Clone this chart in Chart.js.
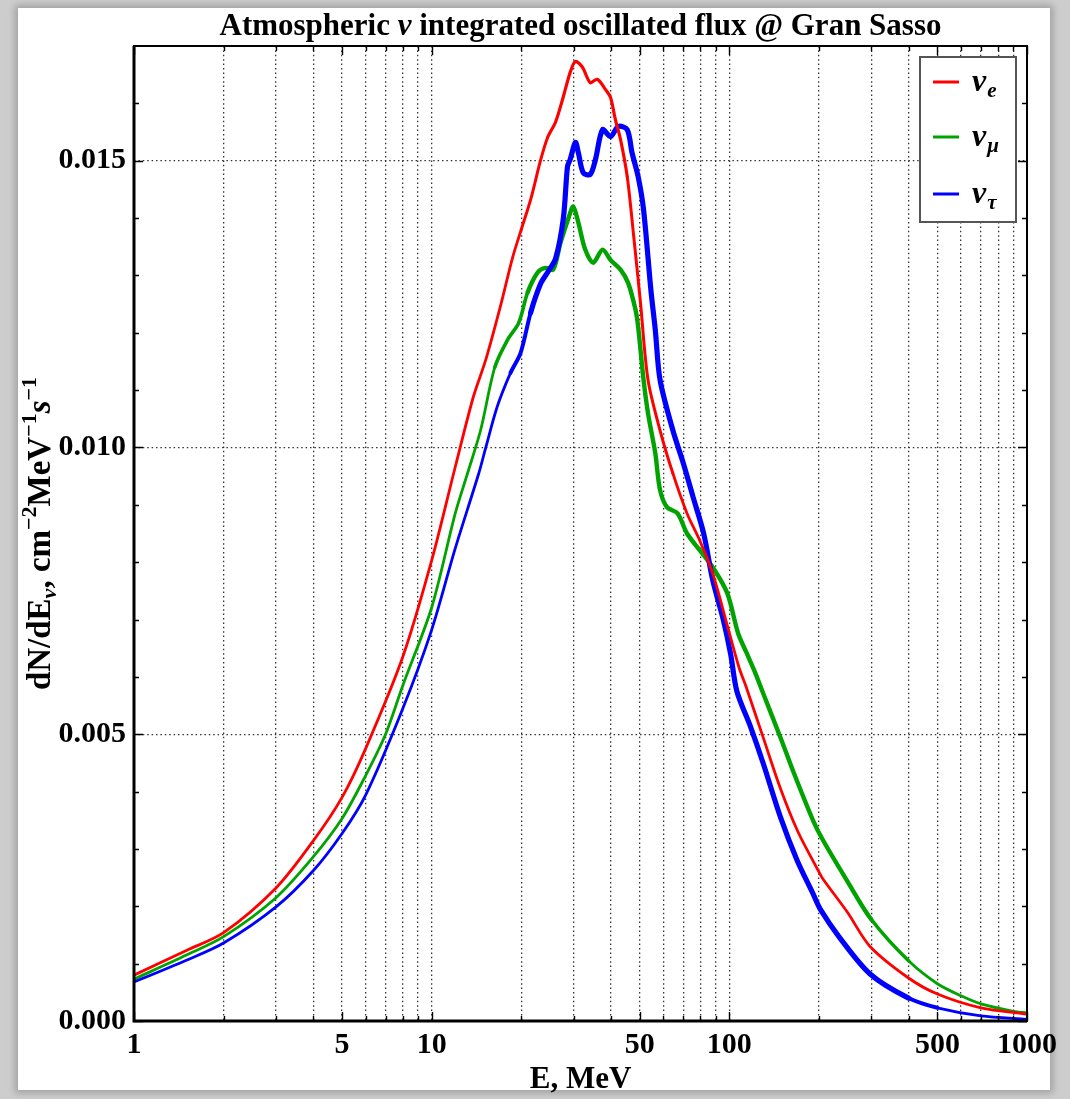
<!DOCTYPE html>
<html>
<head>
<meta charset="utf-8">
<script src="https://cdn.jsdelivr.net/npm/chart.js@4.4.0/dist/chart.umd.min.js"></script>
<style>
  html, body { margin: 0; padding: 0; }
  body { width: 1070px; height: 1099px; background: #cdcdcd; position: relative; overflow: hidden; }
  .sheet { position: absolute; left: 18px; top: 8px; width: 1032px; height: 1082px; background: #fff; box-shadow: 0 0 7px 3px rgba(0,0,0,0.22); }
  canvas { position: absolute; left: 0; top: 0; }
</style>
</head>
<body>
<div class="sheet"></div>
<canvas id="flux" width="1070" height="1099"></canvas>
<script>
// energies in MeV, fluxes in cm^-2 MeV^-1 s^-1
const energyE = [1, 1.5, 2, 3, 4, 5, 6, 8, 10, 12, 13.8, 15.2, 17, 18.7, 20, 21.5, 23.2, 24.5, 26.1, 27.7, 29.2, 30.4, 32.1, 34.1, 36, 38.4, 39.9, 41.4, 43.1, 45.4, 47.6, 50.3, 53.3, 58.5, 64.6, 72.1, 79.5, 88, 98.4, 108, 114, 130, 148.6, 170, 200, 206, 249, 297, 400, 500, 700, 1000];
const fluxE = [0.00080, 0.00123, 0.00154, 0.00232, 0.00314, 0.00390, 0.00475, 0.00635, 0.00803, 0.00966, 0.01088, 0.01153, 0.01245, 0.01331, 0.01380, 0.01432, 0.01500, 0.01540, 0.01568, 0.01612, 0.01654, 0.01673, 0.01663, 0.01636, 0.01642, 0.01624, 0.01610, 0.01572, 0.01537, 0.01472, 0.01374, 0.01252, 0.01118, 0.01030, 0.00955, 0.00885, 0.00838, 0.00780, 0.00690, 0.00615, 0.00582, 0.00494, 0.00405, 0.00330, 0.00260, 0.00248, 0.00190, 0.00130, 0.00075, 0.00047, 0.00023, 0.00012];

const energyMu = [1, 1.5, 2, 3, 4, 5, 6, 7, 8, 10, 12, 13.2, 14.6, 16.3, 18, 19.6, 21, 22.7, 24.1, 25.6, 27.1, 28.9, 29.9, 31.1, 32.8, 34.9, 37.5, 39.9, 43.1, 45.7, 48.4, 49.4, 51.5, 53.3, 56.4, 58.5, 61.7, 67, 72.1, 79.5, 88, 98.4, 107, 114, 122, 130, 148.6, 166, 191, 206, 249, 300, 400, 500, 600, 700, 900, 1000];
const fluxMu = [0.00073, 0.00115, 0.00147, 0.00215, 0.00286, 0.00353, 0.00428, 0.00500, 0.00585, 0.00721, 0.00885, 0.00955, 0.01030, 0.01140, 0.01188, 0.01217, 0.01270, 0.01305, 0.01313, 0.01310, 0.01357, 0.01402, 0.01420, 0.01392, 0.01345, 0.01322, 0.01345, 0.01327, 0.01310, 0.01287, 0.01240, 0.01210, 0.01118, 0.01060, 0.00990, 0.00926, 0.00896, 0.00885, 0.00850, 0.00821, 0.00791, 0.00746, 0.00676, 0.00643, 0.00608, 0.00571, 0.00494, 0.00428, 0.00350, 0.00316, 0.00244, 0.00177, 0.00105, 0.00065, 0.00044, 0.00030, 0.00017, 0.00014];

const energyTau = [1, 1.5, 2, 3, 4, 5, 6, 8, 10, 12, 14.4, 15.2, 16.6, 18.4, 19.9, 21.5, 23.2, 24.5, 26.1, 27.7, 28.6, 29.2, 30.4, 31.1, 32.3, 34.1, 35.5, 37.5, 39.9, 42.4, 45.4, 47.1, 49.4, 51.5, 54.5, 56.4, 58.5, 64.6, 70, 75.6, 82, 88, 95.5, 101, 106, 118, 130, 148.6, 169, 191, 202, 235, 297, 400, 500, 700, 1000];
const fluxTau = [0.00068, 0.00106, 0.00136, 0.00199, 0.00262, 0.00327, 0.00394, 0.00545, 0.00682, 0.00824, 0.00955, 0.01000, 0.01071, 0.01130, 0.01165, 0.01235, 0.01285, 0.01305, 0.01330, 0.01400, 0.01490, 0.01502, 0.01532, 0.01514, 0.01479, 0.01476, 0.01502, 0.01554, 0.01542, 0.01560, 0.01554, 0.01514, 0.01472, 0.01415, 0.01275, 0.01205, 0.01118, 0.01030, 0.00973, 0.00913, 0.00850, 0.00768, 0.00699, 0.00640, 0.00575, 0.00512, 0.00449, 0.00355, 0.00280, 0.00222, 0.00195, 0.00145, 0.00082, 0.00040, 0.00023, 0.00009, 0.00003];

const seriesNames = ['e', 'μ', 'τ'];
const seriesColors = ['#ff0000', '#00a300', '#0000ff'];

const xTickValues = [1, 2, 3, 4, 5, 6, 7, 8, 9, 10, 20, 30, 40, 50, 60, 70, 80, 90, 100, 200, 300, 400, 500, 600, 700, 800, 900, 1000];
const xLabeled = [1, 5, 10, 50, 100, 500, 1000];
const yTickValues = [0, 0.005, 0.010, 0.015];
const yMinorTicks = [0.001, 0.002, 0.003, 0.004, 0.006, 0.007, 0.008, 0.009, 0.011, 0.012, 0.013, 0.014, 0.016];

const SERIF = '"Liberation Serif", "DejaVu Serif", "Times New Roman", serif';

function toPoints(xs, ys) {
  return xs.map((x, i) => ({ x: x, y: ys[i] }));
}

// the noisy Monte Carlo part is drawn thicker, ramping in and out
function noisyWidth(lo, hi, thick) {
  return ctx => {
    const e = ctx.p0.parsed.x;
    if (e >= lo && e <= hi) return thick;
    if (e >= lo * 0.8 && e < lo) return (thick + 2.8) / 2;
    if (e > hi && e <= hi * 1.4) return (thick + 2.8) / 2;
    return 2.8;
  };
}

function drawRich(ctx, parts, x, y) {
  let w = 0;
  parts.forEach(p => { ctx.font = p[1]; w += ctx.measureText(p[0]).width; });
  let cx = x - w / 2;
  parts.forEach(p => {
    ctx.font = p[1];
    ctx.fillText(p[0], cx, y + (p[2] || 0));
    cx += ctx.measureText(p[0]).width;
  });
}

const decorations = {
  id: 'decorations',
  afterDraw(chart) {
    const { ctx, chartArea: a, scales: { x, y } } = chart;
    ctx.save();
    ctx.strokeStyle = '#000';
    ctx.fillStyle = '#000';

    // inward ticks, Mathematica style
    ctx.lineWidth = 1.4;
    ctx.beginPath();
    xTickValues.forEach(v => {
      const px = Math.round(x.getPixelForValue(v)) + 0.5;
      const len = xLabeled.includes(v) ? 9 : 5;
      ctx.moveTo(px, a.bottom); ctx.lineTo(px, a.bottom - len);
      ctx.moveTo(px, a.top); ctx.lineTo(px, a.top + len);
    });
    yTickValues.concat(yMinorTicks).forEach(v => {
      const py = Math.round(y.getPixelForValue(v)) + 0.5;
      const len = yTickValues.includes(v) ? 9 : 5;
      ctx.moveTo(a.left, py); ctx.lineTo(a.left + len, py);
      ctx.moveTo(a.right, py); ctx.lineTo(a.right - len, py);
    });
    ctx.stroke();

    // frame
    ctx.lineWidth = 2;
    ctx.strokeRect(a.left, a.top, a.right - a.left, a.bottom - a.top);
    ctx.lineWidth = 3;
    ctx.beginPath();
    ctx.moveTo(a.left, a.top); ctx.lineTo(a.left, a.bottom); ctx.lineTo(a.right, a.bottom);
    ctx.stroke();

    // title
    ctx.textAlign = 'left';
    ctx.textBaseline = 'alphabetic';
    const cx = (a.left + a.right) / 2;
    drawRich(ctx, [
      ['Atmospheric ', 'bold 31px ' + SERIF],
      ['ν', 'italic bold 31px ' + SERIF],
      [' integrated oscillated flux @ Gran Sasso', 'bold 31px ' + SERIF]
    ], cx, 35);

    // y axis title, rotated
    ctx.save();
    ctx.translate(50, (a.top + a.bottom) / 2);
    ctx.rotate(-Math.PI / 2);
    const big = 'bold 33px ' + SERIF;
    const small = 'bold 22px ' + SERIF;
    drawRich(ctx, [
      ['dN/dE', big],
      ['ν', 'italic bold 22px ' + SERIF, 6],
      [', cm', big],
      ['−2', small, -14],
      ['MeV', big],
      ['−1', small, -14],
      ['s', 'italic bold 33px ' + SERIF],
      ['−1', small, -14]
    ], 0, 0);
    ctx.restore();

    // legend
    const lx = 920, ly = 57, lw = 96, lh = 165;
    ctx.fillStyle = '#fff';
    ctx.fillRect(lx, ly, lw, lh);
    ctx.strokeStyle = '#555';
    ctx.lineWidth = 2;
    ctx.strokeRect(lx, ly, lw, lh);
    const rows = [82, 137, 194];
    rows.forEach((ry, i) => {
      ctx.strokeStyle = seriesColors[i];
      ctx.lineWidth = 3;
      ctx.beginPath();
      ctx.moveTo(933, ry); ctx.lineTo(959, ry);
      ctx.stroke();
      ctx.fillStyle = '#000';
      ctx.textAlign = 'left';
      ctx.font = 'italic bold 32px ' + SERIF;
      ctx.fillText('ν', 972, ry + 9);
      const w = ctx.measureText('ν').width;
      ctx.font = 'italic bold 21px ' + SERIF;
      ctx.fillText(seriesNames[i], 973 + w, ry + 15);
    });
    ctx.restore();
  }
};

const tickFont = { family: SERIF, size: 30, weight: 'bold' };

new Chart(document.getElementById('flux'), {
  type: 'line',
  data: {
    datasets: [
      {
        label: 'νe',
        data: toPoints(energyE, fluxE),
        borderColor: seriesColors[0],
        borderWidth: 2.8,
        order: 0,
        segment: { borderWidth: noisyWidth(24, 45, 3.2) }
      },
      {
        label: 'νμ',
        data: toPoints(energyMu, fluxMu),
        borderColor: seriesColors[1],
        borderWidth: 2.8,
        order: 2,
        segment: { borderWidth: noisyWidth(20, 260, 4.4) }
      },
      {
        label: 'ντ',
        data: toPoints(energyTau, fluxTau),
        borderColor: seriesColors[2],
        borderWidth: 2.8,
        order: 1,
        segment: { borderWidth: noisyWidth(21, 300, 5.2) }
      }
    ]
  },
  options: {
    responsive: false,
    animation: false,
    devicePixelRatio: 1,
    layout: { padding: { top: 46, right: 43, left: 0, bottom: 0 } },
    elements: {
      point: { radius: 0 },
      line: { tension: 0.3, borderJoinStyle: 'round', borderCapStyle: 'round' }
    },
    plugins: {
      legend: { display: false },
      tooltip: { enabled: false },
      title: { display: false }
    },
    scales: {
      x: {
        type: 'logarithmic',
        min: 1,
        max: 1000,
        afterBuildTicks: s => { s.ticks = xTickValues.map(v => ({ value: v })); },
        afterFit: s => { s.height = 78; },
        ticks: {
          autoSkip: false,
          maxRotation: 0,
          padding: 6,
          color: '#000',
          font: tickFont,
          callback: v => xLabeled.includes(v) ? String(v) : ''
        },
        grid: {
          drawTicks: false,
          lineWidth: 1.3,
          color: c => (c.tick && (c.tick.value === 1 || c.tick.value === 1000)) ? 'rgba(0,0,0,0)' : '#333'
        },
        border: { display: false, dash: [1.5, 2.9] },
        title: {
          display: true,
          text: 'E, MeV',
          color: '#000',
          font: { family: SERIF, size: 31, weight: 'bold' },
          padding: { top: 0, bottom: 0 }
        }
      },
      y: {
        min: 0,
        max: 0.017,
        afterBuildTicks: s => { s.ticks = yTickValues.map(v => ({ value: v })); },
        afterFit: s => { s.width = 134; },
        ticks: {
          padding: 8,
          color: '#000',
          font: tickFont,
          callback: v => v.toFixed(3)
        },
        grid: {
          drawTicks: false,
          lineWidth: 1.3,
          color: c => (c.tick && c.tick.value === 0) ? 'rgba(0,0,0,0)' : '#333'
        },
        border: { display: false, dash: [1.5, 2.9] }
      }
    }
  },
  plugins: [decorations]
});
</script>
</body>
</html>
